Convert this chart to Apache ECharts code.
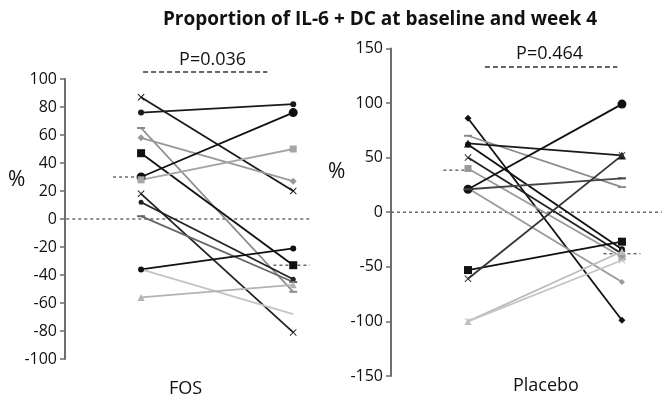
<!DOCTYPE html>
<html>
<head>
<meta charset="utf-8">
<script src="https://cdn.jsdelivr.net/npm/echarts@6/dist/echarts.min.js"></script>
<style>
  html, body { margin: 0; padding: 0; background: #fff; }
  #chart { width: 662px; height: 405px; }
</style>
</head>
<body>
<div id="chart"></div>
<script>
// values (baseline -> week 4, % change)
const fosBase  = [87, 76, 65, 58, 47, 30, 28, 18, 12, 2, -36, -36, -56]
const fosWeek4 = [20, 82, -52, 27, -33, 76, 50, -81, -43, -45, -21, -68, -47]
const plaBase  = [86, 70, 63, 62, 50, 40, 22, 21, 21, -53, -61, -100, -100]
const plaWeek4 = [-99, 23, 52, -34, -38, -41, -64, 99, 31, -27, 52, -36, -44]

// dashed group lines (baseline, week 4)
const fosMid = [30, -33]
const plaMid = [38.5, -38]

const fosTicks = { min: -100, max: 100, interval: 20 }
const plaTicks = { min: -150, max: 150, interval: 50 }

const pValues = ['P=0.036', 'P=0.464']

// marker style per subject
const X = 'path://M0,1L1,0L5,4L9,0L10,1L6,5L10,9L9,10L5,6L1,10L0,9L4,5Z'
const fosStyle = [
    [X, 7, '#1a1a1a'], ['circle', 6, '#1a1a1a'], ['rect', [8, 2], '#8c8c8c'],
    ['diamond', 7, '#999'], ['rect', 8, '#111'], ['circle', 9, '#111'],
    ['rect', 7, '#a6a6a6'], [X, 7, '#222'], ['circle', 5, '#222'],
    ['rect', [8, 2], '#666'], ['circle', 6, '#111'], ['none', 0, '#c4c4c4'],
    ['triangle', 7, '#b3b3b3']
]
const plaStyle = [
    ['diamond', 7, '#111'], ['rect', [8, 2], '#8c8c8c'], ['triangle', 8, '#1a1a1a'],
    ['circle', 6, '#111'], [X, 7, '#222'], ['rect', 7, '#999'],
    ['diamond', 6, '#999'], ['circle', 9, '#111'], ['rect', [8, 2], '#444'],
    ['rect', 8, '#111'], [X, 7, '#333'], ['triangle', 7, '#bdbdbd'],
    [X, 7, '#c4c4c4']
]

const font = 'Open Sans'

function subjects(base, week4, style, idx) {
    return base.map((b, i) => ({
        type: 'line',
        xAxisIndex: idx,
        yAxisIndex: idx,
        data: [[1, b], [2, week4[i]]],
        symbol: style[i][0],
        symbolSize: style[i][1],
        showSymbol: true,
        itemStyle: { color: style[i][2] },
        lineStyle: { color: style[i][2], width: 1.8 },
        z: 3
    }))
}

function dashed(idx, pts, opts) {
    return Object.assign({
        type: 'line',
        xAxisIndex: idx,
        yAxisIndex: idx,
        data: pts,
        symbol: 'none',
        clip: false,
        lineStyle: { color: '#555', width: 1.3, type: [3, 3] },
        z: 2
    }, opts || {})
}

function pText(idx, x, y, txt) {
    return {
        type: 'scatter',
        xAxisIndex: idx,
        yAxisIndex: idx,
        data: [[x, y]],
        symbolSize: 0,
        clip: false,
        itemStyle: { opacity: 1, color: '#111' },
        label: {
            show: true, position: 'inside', formatter: txt,
            color: '#111', fontSize: 18, fontFamily: font,
            textBorderWidth: 0
        }
    }
}

function yAxis(idx, t) {
    return {
        type: 'value',
        gridIndex: idx,
        min: t.min, max: t.max, interval: t.interval,
        axisLine: { show: true, lineStyle: { color: '#6e6e6e', width: 2 } },
        axisTick: { show: true, length: 5, lineStyle: { color: '#6e6e6e', width: 1.5 } },
        axisLabel: { color: '#111', fontSize: 16, fontFamily: font, margin: 8 },
        splitLine: { show: false }
    }
}

const chart = echarts.init(document.getElementById('chart'))

chart.setOption({
    animation: false,
    title: {
        text: 'Proportion of IL-6 + DC at baseline and week 4',
        left: 375, top: 5, textAlign: 'center',
        textStyle: { fontSize: 19, fontWeight: 'bold', color: '#111', fontFamily: font }
    },
    grid: [
        { left: 65, top: 79, width: 248, height: 280 },
        { left: 391, top: 48.4, width: 271, height: 327.6 }
    ],
    xAxis: [
        { type: 'value', gridIndex: 0, min: 0.5, max: 2.13, show: false },
        { type: 'value', gridIndex: 1, min: 0.5, max: 2.26, show: false }
    ],
    yAxis: [yAxis(0, fosTicks), yAxis(1, plaTicks)],
    graphic: [
        { type: 'text', left: 8, top: 170, style: { text: '%', fontSize: 21, fill: '#111', fontFamily: font } },
        { type: 'text', left: 328, top: 162, style: { text: '%', fontSize: 21, fill: '#111', fontFamily: font } },
        { type: 'text', left: 169, top: 380, style: { text: 'FOS', fontSize: 18, fill: '#111', fontFamily: font } },
        { type: 'text', left: 513, top: 377, style: { text: 'Placebo', fontSize: 18, fill: '#111', fontFamily: font } }
    ],
    series: [
        dashed(0, [[0.39, 0], [2.125, 0]]),
        dashed(0, [[0.816, fosMid[0]], [1, fosMid[0]]]),
        dashed(0, [[1.87, fosMid[1]], [2.11, fosMid[1]]]),
        dashed(0, [[1.013, 105], [1.83, 105]], { lineStyle: { color: '#333', width: 1.5, type: [5, 3] } }),
        pText(0, 1.47, 113.6, pValues[0]),
        dashed(1, [[0.5, 0], [2.26, 0]]),
        dashed(1, [[0.84, plaMid[0]], [1, plaMid[0]]]),
        dashed(1, [[1.88, plaMid[1]], [2.12, plaMid[1]]]),
        dashed(1, [[1.11, 133], [1.97, 133]], { lineStyle: { color: '#333', width: 1.5, type: [5, 3] } }),
        pText(1, 1.53, 145, pValues[1]),
        ...subjects(fosBase, fosWeek4, fosStyle, 0),
        ...subjects(plaBase, plaWeek4, plaStyle, 1)
    ]
})
</script>
</body>
</html>
